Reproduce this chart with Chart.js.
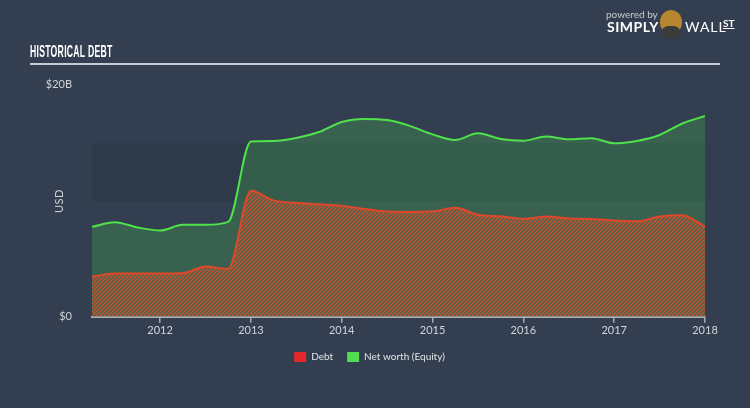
<!DOCTYPE html>
<html>
<head>
<meta charset="utf-8">
<script src="https://cdn.jsdelivr.net/npm/chart.js@4.4.1/dist/chart.umd.min.js"></script>
<style>
  html, body { margin: 0; padding: 0; background: #333f50; }
  #wrap { position: relative; width: 750px; height: 408px; overflow: hidden; background: #333f50; }
  #chart { position: absolute; left: 0; top: 0; }
  #title { position: absolute; left: 30px; top: 42px; font-family: "Liberation Sans Narrow", sans-serif; font-weight: bold; font-size: 17px; color: #fff; transform: scaleX(0.51); transform-origin: left top; white-space: nowrap; letter-spacing: 0.5px; }
  #rule { position: absolute; left: 30px; top: 63px; width: 690px; height: 2px; background: #c4cad1; }
  #usd { position: absolute; left: 52px; top: 213px; font-family: Lato, sans-serif; font-size: 11px; color: #c9ced5; transform: rotate(-90deg); transform-origin: left top; letter-spacing: 0.5px; }
  .logo { position: absolute; font-family: Lato, sans-serif; white-space: nowrap; }
  #pw { left: 606px; top: 8px; font-size: 10px; color: #c6c9cd; }
  #simply { left: 607px; top: 18px; font-size: 14px; font-weight: bold; color: #fff; letter-spacing: 0.5px; }
  #wall { left: 685px; top: 18px; font-size: 14px; color: #fff; letter-spacing: 1px; }
  #st { left: 723px; top: 17px; font-size: 10px; font-weight: bold; color: #fff; text-decoration: underline; }
  #bull { position: absolute; left: 660px; top: 10px; width: 22px; height: 24px; border-radius: 50% 50% 45% 45%; background: #b8862f; }
  #suit { position: absolute; left: 662px; top: 26px; width: 18px; height: 12px; border-radius: 40% 40% 0 0; background: #3b3b3b; }
</style>
</head>
<body>
<div id="wrap">
  <canvas id="chart" width="750" height="408"></canvas>
  <div id="title">HISTORICAL DEBT</div>
  <div id="rule"></div>
  <div id="usd">USD</div>
  <div class="logo" id="pw">powered by</div>
  <div class="logo" id="simply">SIMPLY</div>
  <div id="bull"></div><div id="suit"></div>
  <div class="logo" id="wall">WALL</div>
  <div class="logo" id="st">ST</div>
</div>
<script>
// quarterly points, values in $B
const years = [2011.25, 2011.5, 2011.75, 2012, 2012.25, 2012.5, 2012.75,
  2013, 2013.25, 2013.5, 2013.75, 2014, 2014.25, 2014.5, 2014.75,
  2015, 2015.25, 2015.5, 2015.75, 2016, 2016.25, 2016.5, 2016.75,
  2017, 2017.25, 2017.5, 2017.75, 2018];
const debt = [3.46, 3.71, 3.73, 3.73, 3.75, 4.33, 4.12,
  10.82, 10.0, 9.79, 9.66, 9.53, 9.27, 9.04, 9.01,
  9.06, 9.36, 8.76, 8.63, 8.41, 8.61, 8.45, 8.41,
  8.28, 8.20, 8.61, 8.73, 7.75];
const netWorth = [7.73, 8.13, 7.68, 7.41, 7.90, 7.90, 8.15,
  15.06, 15.1, 15.36, 15.88, 16.74, 17.0, 16.9, 16.4,
  15.67, 15.19, 15.77, 15.28, 15.13, 15.49, 15.25, 15.34,
  14.91, 15.11, 15.62, 16.61, 17.25];
const xTickYears = [2012, 2013, 2014, 2015, 2016, 2017, 2018];
const yTickValues = [0, 20];
const bandRange = [9.9, 14.9];

const ctx = document.getElementById('chart').getContext('2d');

// red / green diagonal hatch for the debt area
function hatch() {
  const c = document.createElement('canvas');
  c.width = 4; c.height = 4;
  const p = c.getContext('2d');
  p.fillStyle = '#3f6b50';
  p.fillRect(0, 0, 4, 4);
  p.strokeStyle = '#d8492c';
  p.lineWidth = 1.3;
  p.beginPath();
  p.moveTo(0, 4); p.lineTo(4, 0);
  p.moveTo(-1, 1); p.lineTo(1, -1);
  p.moveTo(3, 5); p.lineTo(5, 3);
  p.stroke();
  return ctx.createPattern(c, 'repeat');
}

const bandPlugin = {
  id: 'band',
  beforeDatasetsDraw(chart) {
    const { ctx, chartArea, scales } = chart;
    const top = scales.y.getPixelForValue(bandRange[1]);
    const bot = scales.y.getPixelForValue(bandRange[0]);
    ctx.save();
    ctx.fillStyle = '#2e3a4a';
    ctx.fillRect(chartArea.left, top, chartArea.right - chartArea.left, bot - top);
    ctx.restore();
  }
};

// legend is centred a little right of the canvas middle in the original
const legendShift = {
  id: 'legendShift',
  afterLayout(chart) {
    chart.legend.left += 17;
    chart.legend.right += 17;
  }
};

new Chart(ctx, {
  type: 'line',
  data: {
    datasets: [
      {
        label: 'Debt',
        data: years.map((x, i) => ({ x: x, y: debt[i] })),
        borderColor: '#e0472b',
        backgroundColor: hatch(),
        legendColor: '#e5292b',
        borderWidth: 2,
        fill: 'origin',
      },
      {
        label: 'Net worth (Equity)',
        data: years.map((x, i) => ({ x: x, y: netWorth[i] })),
        borderColor: '#4fe24a',
        backgroundColor: 'rgba(70,200,80,0.25)',
        legendColor: '#52dc52',
        borderWidth: 2,
        fill: 'origin',
      },
    ],
  },
  options: {
    responsive: false,
    animation: false,
    layout: { padding: { left: 0, right: 45, top: 84, bottom: 36 } },
    elements: {
      point: { radius: 0 },
      line: { tension: 0.4, cubicInterpolationMode: 'monotone' },
    },
    scales: {
      x: {
        type: 'linear',
        min: 2011.25,
        max: 2018,
        afterBuildTicks: (s) => { s.ticks = xTickYears.map((v) => ({ value: v })); },
        ticks: {
          color: '#d0d4da',
          font: { family: 'Lato', size: 11 },
          padding: 1,
          maxRotation: 0,
          callback: (v) => String(v),
        },
        grid: { drawOnChartArea: false, drawTicks: true, tickLength: 6, color: '#a3abb5', lineWidth: 1.5 },
        border: { color: '#a9b1bb', width: 2 },
      },
      y: {
        min: 0,
        max: 20,
        afterBuildTicks: (s) => { s.ticks = yTickValues.map((v) => ({ value: v })); },
        afterFit: (s) => { s.width = 92; },
        ticks: {
          color: '#d0d4da',
          font: { family: 'Lato', size: 11 },
          padding: 12,
          callback: (v) => (v === 0 ? '$0' : '$' + v + 'B'),
        },
        grid: { display: false },
        border: { display: false },
      },
    },
    plugins: {
      legend: {
        position: 'bottom',
        labels: {
          color: '#e2e4e8',
          font: { family: 'Lato', size: 10 },
          boxWidth: 12,
          boxHeight: 10,
          padding: 14,
          generateLabels: (chart) => chart.data.datasets.map((d, i) => ({
            text: d.label,
            fillStyle: d.legendColor,
            strokeStyle: d.legendColor,
            lineWidth: 0,
            fontColor: '#e2e4e8',
            datasetIndex: i,
          })),
        },
      },
      tooltip: { enabled: false },
    },
  },
  plugins: [bandPlugin, legendShift],
});
</script>
</body>
</html>
